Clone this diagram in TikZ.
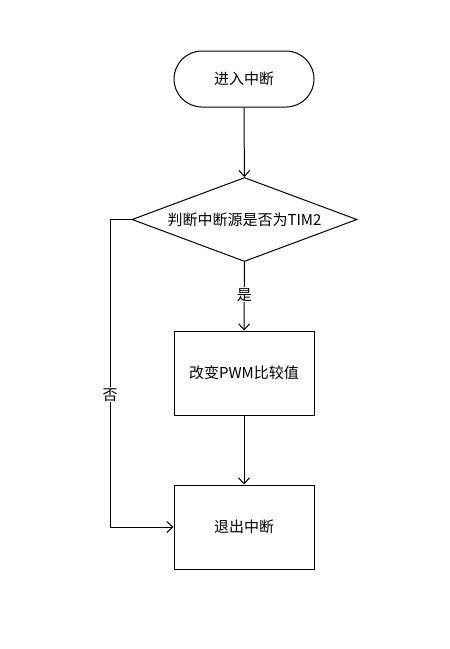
\documentclass[tikz,border=0pt]{standalone}
\usepackage{fontspec}
\setmainfont{Noto Sans CJK SC}
\usetikzlibrary{shapes.geometric,shapes.misc,arrows.meta}
\begin{document}
\begin{tikzpicture}[x=1pt,y=-1pt,
  base/.style={draw=black,line width=1pt,font=\fontsize{15}{18}\selectfont,inner sep=0pt},
  term/.style={base,rounded rectangle,minimum width=140pt,minimum height=56pt},
  proc/.style={base,rectangle,minimum width=140pt,minimum height=84pt},
  dec/.style={base,diamond,aspect=2.68,minimum width=225pt,minimum height=84pt},
  conn/.style={line width=1pt,-{Straight Barb[length=6pt,width=11pt,line width=1pt]}},
  lbl/.style={fill=white,font=\fontsize{15}{18}\selectfont,inner sep=1pt}]
\useasboundingbox (0,0) rectangle (450,649);
\node[term] (start) at (244,79) {进入中断};
\node[dec] (judge) at (244.5,219.5) {判断中断源是否为TIM2};
\node[proc] (change) at (244,373) {改变PWM比较值};
\node[proc] (exit) at (244,527) {退出中断};
\coordinate (c1) at (110,219.5);
\coordinate (c2) at (110,527);
\draw[conn] (start) -- (judge);
\draw[conn] (judge) -- node[lbl,pos=0.48] {是} (change);
\draw[conn] (change) -- (exit);
\draw[conn] (judge.west) -- (c1) -- node[lbl,pos=0.57] {否} (c2) -- (exit.west);
\end{tikzpicture}
\end{document}
